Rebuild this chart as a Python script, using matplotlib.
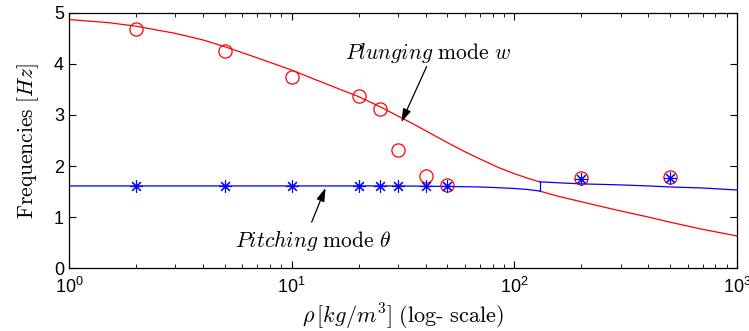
import matplotlib
matplotlib.use("Agg")
import matplotlib.pyplot as plt
from matplotlib.ticker import LogLocator, NullFormatter

plt.rcParams['font.family'] = ['Liberation Sans', 'DejaVu Sans']
plt.rcParams['mathtext.fontset'] = 'custom'
plt.rcParams['mathtext.rm'] = 'Liberation Sans'
plt.rcParams['mathtext.it'] = 'Liberation Sans:italic'

# measured points
rho_pts = [2, 5, 10, 20, 25, 30, 40, 50, 200, 500]
plunge_pts = [4.69, 4.25, 3.75, 3.37, 3.12, 2.31, 1.80, 1.63, 1.76, 1.78]
pitch_pts = [1.60, 1.60, 1.60, 1.60, 1.60, 1.60, 1.60, 1.60, 1.74, 1.76]

# model curves (two branches each, meeting at the veering density)
rho_red_a = [1, 1.5, 2, 3, 4, 5, 7, 10, 13, 17, 20, 25, 30, 35, 40, 50, 60, 70, 85, 100, 115, 130]
red_a = [4.87, 4.81, 4.74, 4.60, 4.47, 4.34, 4.12, 3.88, 3.68, 3.48, 3.36, 3.16, 2.98, 2.83,
         2.69, 2.46, 2.28, 2.14, 1.97, 1.85, 1.76, 1.69]
rho_blue_a = [1, 10, 30, 50, 70, 85, 100, 115, 130]
blue_a = [1.61, 1.61, 1.61, 1.60, 1.59, 1.575, 1.56, 1.54, 1.51]
rho_b = [130, 145, 160, 200, 250, 300, 400, 500, 700, 1000]
red_b = [1.51, 1.45, 1.40, 1.30, 1.20, 1.12, 1.00, 0.90, 0.76, 0.63]
blue_b = [1.69, 1.68, 1.67, 1.65, 1.64, 1.63, 1.61, 1.59, 1.57, 1.53]

fig = plt.figure(figsize=(7.49, 3.31), dpi=100)
ax = fig.add_axes([0.092, 0.190, 0.892, 0.771])

lw = 0.9
ax.plot(rho_red_a, red_a, color='#ff0000', lw=lw)
ax.plot(rho_b, red_b, color='#ff0000', lw=lw)
ax.plot(rho_blue_a, blue_a, color='#0000ff', lw=lw)
ax.plot(rho_b, blue_b, color='#0000ff', lw=lw)
ax.plot([rho_blue_a[-1], rho_b[0]], [blue_a[-1], blue_b[0]], color='#0000ff', lw=lw)

ax.plot(rho_pts, plunge_pts, 'o', color='#ff0000', mfc='none', ms=9.5, mew=0.9, ls='none')
ax.plot(rho_pts, pitch_pts, marker=(8, 2, 0), color='#0000ff', ms=9, mew=0.8, ls='none')

ax.set_xscale('log')
ax.set_xlim(1, 1000)
ax.set_ylim(0, 5)
ax.set_yticks([0, 1, 2, 3, 4, 5])
ax.xaxis.set_minor_locator(LogLocator(base=10, subs=range(2, 10)))
ax.xaxis.set_minor_formatter(NullFormatter())
ax.tick_params(which='both', direction='in', top=True, right=True, labelsize=13)
ax.tick_params(which='major', length=5, width=0.8)
ax.tick_params(which='minor', length=3, width=0.6)
ax.tick_params(axis='x', pad=6)
for s in ax.spines.values():
    s.set_linewidth(0.9)

ax.set_xlabel(r'$\rho\,[kg/m^3]\ \mathrm{(log\text{-}\ scale)}$', fontsize=16,
              math_fontfamily='cm', labelpad=4)
ax.set_ylabel(r'$\mathrm{Frequencies}\ [Hz]$', fontsize=15.5, math_fontfamily='cm', labelpad=9)

ax.text(40.8, 4.22, r'$\mathit{Plunging}\ \mathrm{mode}\ w$', fontsize=15.5,
        math_fontfamily='cm', ha='center', va='center')
arrow = dict(arrowstyle='-|>,head_length=0.8,head_width=0.25', color='black', lw=0.9,
             mutation_scale=10, shrinkA=0, shrinkB=0)
ax.annotate('', xy=(31.1, 2.86), xytext=(40.4, 3.95), arrowprops=arrow)
ax.text(12.5, 0.55, r'$\mathit{Pitching}\ \mathrm{mode}\ \theta$', fontsize=15.5,
        math_fontfamily='cm', ha='center', va='center')
ax.annotate('', xy=(14.2, 1.57), xytext=(12.3, 0.90), arrowprops=arrow)

fig.savefig('out.png', dpi=100)
